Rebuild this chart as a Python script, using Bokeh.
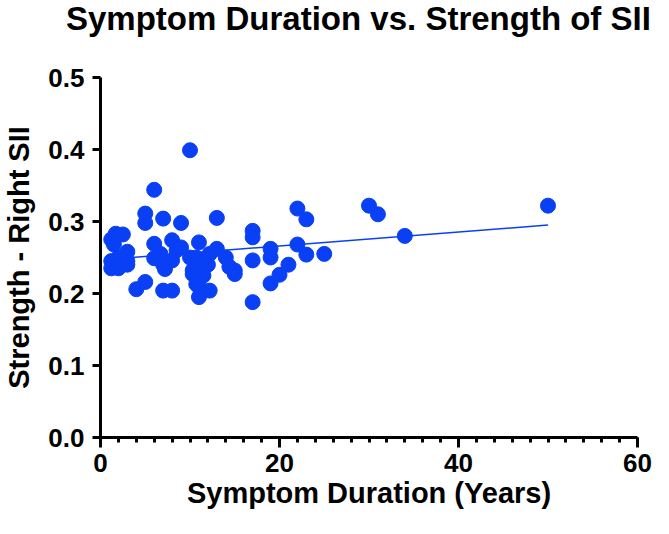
from bokeh.plotting import figure
from bokeh.models import FixedTicker, Div, CustomJSTickFormatter
from bokeh.layouts import column
from bokeh.embed import file_html
from bokeh.resources import INLINE

# Data
duration_years = [1.2, 1.7, 2.5, 1.5, 3, 3, 1.2, 1.7, 1.2, 2, 3, 2,
                  4, 5, 7, 8,
                  6, 5, 5, 7, 9, 10,
                  6, 6, 6.7, 7.2, 8, 8, 9, 8.5, 7,
                  10, 10.3, 10.7, 11, 11, 11, 11.4, 12.2, 12.2, 10.3, 10.7, 11.5, 12,
                  13, 13, 14, 14.4, 15, 15,
                  17, 17, 17, 17,
                  19, 19, 19, 20, 21, 22, 23, 22, 23, 25,
                  30, 31, 34, 50]
strength_right_sii = [0.275, 0.283, 0.282, 0.268, 0.258, 0.245, 0.245, 0.240, 0.235, 0.235, 0.240, 0.250,
                      0.206, 0.216, 0.204, 0.204,
                      0.344, 0.311, 0.298, 0.304, 0.298, 0.399,
                      0.269, 0.249, 0.255, 0.234, 0.274, 0.246, 0.264, 0.260, 0.240,
                      0.250, 0.232, 0.213, 0.195, 0.271, 0.209, 0.241, 0.255, 0.204, 0.227, 0.250, 0.225, 0.240,
                      0.305, 0.262, 0.250, 0.237, 0.227, 0.232,
                      0.287, 0.278, 0.246, 0.188,
                      0.262, 0.250, 0.214, 0.226, 0.240, 0.318, 0.303, 0.268, 0.254, 0.255,
                      0.322, 0.310, 0.280, 0.322]
fit_x = [1, 50]
fit_y = [0.2476, 0.295]
x_ticks = [0, 20, 40, 60]
x_minor_ticks = list(range(0, 61, 2))
y_ticks = [0.0, 0.1, 0.2, 0.3, 0.4, 0.5]
title_text = "Symptom Duration vs. Strength of SII"

FONT = "Liberation Sans"
BLUE = "#0a40f5"
TITLE_H = 40

title_div = Div(
    text=('<div style="font-family: \'Liberation Sans\', Arial, sans-serif; font-size: 33px; '
          'font-weight: bold; line-height: 37px; color: black; white-space: nowrap; '
          'padding-left: 66px; padding-top: 0px;">' + title_text + '</div>'),
    width=653, height=TITLE_H, margin=0)

p = figure(width=653, height=518 - TITLE_H, output_backend="svg", toolbar_location=None,
           x_range=(0, 60), y_range=(0, 0.5),
           min_border_left=97, min_border_right=16, min_border_top=77 - TITLE_H,
           min_border_bottom=81, margin=0)
p.title.visible = False
p.outline_line_color = None
p.xgrid.visible = False
p.ygrid.visible = False
p.background_fill_color = "white"
p.border_fill_color = "white"

p.scatter(duration_years, strength_right_sii, size=15, color=BLUE, line_color=BLUE)
p.line(fit_x, fit_y, line_color=BLUE, line_width=1.5)

for ax in (p.xaxis[0], p.yaxis[0]):
    ax.axis_line_width = 3
    ax.axis_line_color = "black"
    ax.major_tick_line_width = 3
    ax.major_tick_line_color = "black"
    ax.minor_tick_line_width = 3
    ax.minor_tick_line_color = "black"
    ax.major_label_text_font = FONT
    ax.major_label_text_font_style = "bold"
    ax.major_label_text_font_size = "26px"
    ax.major_label_text_color = "black"
    ax.axis_label_text_font = FONT
    ax.axis_label_text_font_style = "bold"
    ax.axis_label_text_font_size = "29px"
    ax.axis_label_text_color = "black"

xa = p.xaxis[0]
xa.ticker = FixedTicker(ticks=x_ticks, minor_ticks=x_minor_ticks)
xa.major_tick_in = 0
xa.major_tick_out = 10
xa.minor_tick_in = 0
xa.minor_tick_out = 5
xa.major_label_standoff = 6
xa.axis_label = "Symptom Duration (Years)"
xa.axis_label_standoff = 2

ya = p.yaxis[0]
ya.ticker = FixedTicker(ticks=y_ticks, minor_ticks=[])
ya.major_tick_in = 0
ya.major_tick_out = 8
ya.minor_tick_out = 0
ya.major_label_standoff = 8
ya.formatter = CustomJSTickFormatter(code="return tick.toFixed(1);")
ya.axis_label = "Strength - Right SII"
ya.axis_label_standoff = 10

layout = column(title_div, p, spacing=0)
open("out.html", "w").write(file_html(layout, INLINE))
